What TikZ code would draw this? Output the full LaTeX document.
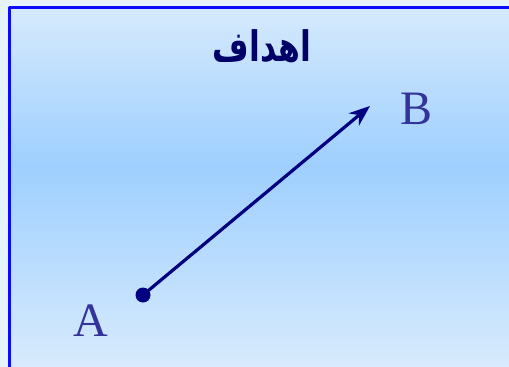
\documentclass[tikz,border=0pt]{standalone}
\usepackage{fontspec}
\setmainfont{Liberation Serif}
\newfontfamily\arabicfont[Script=Arabic]{DejaVu Sans}
\TeXXeTstate=1
\usetikzlibrary{arrows.meta,positioning}
\definecolor{outerbg}{HTML}{E6F3FA}
\definecolor{skytop}{HTML}{D6EAFD}
\definecolor{skymid}{HTML}{9ECFFE}
\definecolor{skybot}{HTML}{D8EBFD}
\definecolor{frameblue}{HTML}{0A0AFF}
\definecolor{navy}{HTML}{000080}
\definecolor{letterblue}{HTML}{333399}

\begin{document}
\begin{tikzpicture}[x=1pt, y=-1pt, >={Stealth[length=21pt,width=16pt]},
    line cap=round, line join=round]
  \tikzset{
    pointlabel/.style={text=letterblue, font=\fontsize{48}{48}\selectfont, inner sep=0pt},
    titlelabel/.style={text=navy!80!black, font=\arabicfont\bfseries\fontsize{42}{42}\selectfont, inner sep=0pt},
    vecline/.style={draw=navy, line width=3.2pt, ->}
  }
  \useasboundingbox (0,0) rectangle (509,367);
  \clip (0,0) rectangle (509,367);

  % background and frame
  \fill[outerbg] (0,0) rectangle (509,367);
  \shade[top color=skytop, bottom color=skymid] (9,7) rectangle (509,166);
  \shade[top color=skymid, bottom color=skybot] (9,165) rectangle (509,367);
  \draw[frameblue, line width=3pt] (9,400) -- (9,7) -- (530,7);

  % title
  \node[titlelabel] (title) at (262,46) {\scalebox{0.75}[1]{\beginR اهداف\endR}};

  % points and vector
  \node[circle, fill=navy, inner sep=0pt, minimum size=15pt] (pA) at (143,295) {};
  \coordinate (pB) at (370,106);
  \node[pointlabel] (labA) at (91,321) {A};
  \node[pointlabel] (labB) at (417,109) {B};
  \draw[vecline] (pA) -- (pB);
\end{tikzpicture}
\end{document}
